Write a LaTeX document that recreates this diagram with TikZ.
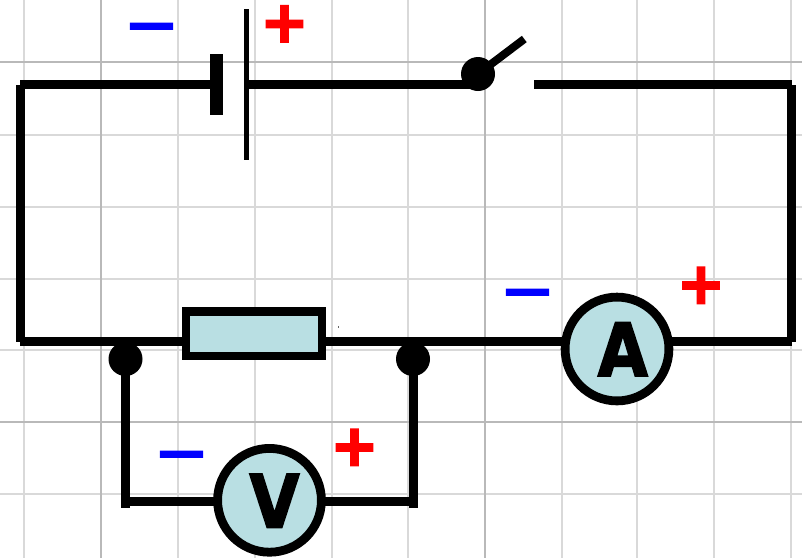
\documentclass[tikz,border=0pt]{standalone}
\usepackage{fontspec}
\setmainfont{DejaVu Sans}
\newfontfamily\signfont[FakeBold=4]{DejaVu Sans Bold}
\newfontfamily\dashfont[FakeBold=3]{DejaVu Sans Bold}
\newfontfamily\letterfont[FakeBold=2.5]{DejaVu Sans Bold}
\definecolor{lightgrid}{HTML}{D9D9D9}
\definecolor{darkgrid}{HTML}{B9B9B9}
\definecolor{meterfill}{HTML}{B9DFE3}
\tikzset{
  gridlight/.style={draw=lightgrid,line width=2pt},
  griddark/.style={draw=darkgrid,line width=2pt},
  wire/.style={draw=black,line width=9pt},
  meter/.style={circle,draw=black,line width=8.8pt,fill=meterfill,minimum size=103.8pt,inner sep=0pt,outer sep=0pt},
  resistor/.style={draw=black,line width=8.2pt,fill=meterfill,minimum width=135.8pt,minimum height=44.8pt,inner sep=0pt,outer sep=0pt},
  junction/.style={circle,fill=black,minimum size=34pt,inner sep=0pt,outer sep=0pt},
  meterletter/.style={anchor=base,font=\fontsize{73.5}{74}\selectfont\letterfont,xscale=0.88,inner sep=0pt},
  plussign/.style={text=red,font=\fontsize{57}{57}\selectfont\signfont,inner sep=0pt,anchor=base},
  minussign/.style={text=blue,font=\fontsize{47}{47}\selectfont\dashfont,inner sep=0pt,anchor=base}
}
\begin{document}
\begin{tikzpicture}[x=1pt,y=-1pt]
\useasboundingbox (0,0) rectangle (802,558);
\fill[white] (0,0) rectangle (802,558);
% grid
\foreach \gx in {24,178,254.5,331.5,408,562,637,714,791} \draw[gridlight] (\gx,0) -- (\gx,558);
\foreach \gy in {134.5,206.5,278.5,350,494} \draw[gridlight] (0,\gy) -- (802,\gy);
\foreach \gx in {101,485} \draw[griddark] (\gx,0) -- (\gx,558);
\foreach \gy in {62,422} \draw[griddark] (0,\gy) -- (802,\gy);
% free wire ends
\coordinate (tl) at (20,84.5);
\coordinate (tlv) at (20,85);
\coordinate (tr) at (791.5,84.5);
\coordinate (trv) at (791.5,85);
\coordinate (bl) at (20,341.5);
\coordinate (blv) at (20,342);
\coordinate (br) at (791.5,341.5);
\coordinate (brv) at (791.5,342);
\coordinate (gapend) at (534,84.5);
\coordinate (armend) at (524.3,39);
\coordinate (vl) at (125.5,508);
\coordinate (vr) at (413,508);
\coordinate (vlh) at (125.5,501.5);
\coordinate (vrh) at (413,501.5);
\coordinate (batneg) at (216.5,84.5);
\coordinate (batpos) at (246.5,84.5);
% wires drawn behind the components
\path (478,74) coordinate (swc) (125.5,359) coordinate (jlc) (413,359) coordinate (jrc)
      (617,349) coordinate (Ac) (269.5,500.3) coordinate (Vc) (254,333.8) coordinate (Rc);
\draw[wire] (tl) -- (batneg);
\draw[wire] (batpos) -- (swc |- batpos);
\draw[wire] (gapend) -- (tr);
\draw[wire] (tlv) -- (blv);
\draw[wire] (trv) -- (brv);
\draw[wire] (bl) -- (br);
\draw[wire] (jlc) -- (vl);
\draw[wire] (jrc) -- (vr);
\draw[wire] (vlh) -- (vrh);
\draw[line width=8pt] (swc) -- (armend);
% components
\node[junction] (sw) at (swc) {};
\node[junction] (jl) at (jlc) {};
\node[junction] (jr) at (jrc) {};
\node[meter] (A) at (Ac) {};
\node[meter] (V) at (Vc) {};
\node[resistor] (R) at (Rc) {};
% battery plates
\fill[black] (210,54) rectangle (222.5,115);
\fill[black] (244.2,9) rectangle (248.8,160);
% speck
\fill[black!60] (337.5,326) rectangle (338.5,327.5);
% letters
\node[meterletter] (Alabel) at (622.8,376) {A};
\node[meterletter] (Vlabel) at (274.5,527.5) {V};
% signs
\node[plussign] (p1) at (284.5,41.8) {+};
\node[plussign] (p2) at (354.5,465.3) {+};
\node[plussign] (p3) at (701,303.3) {+};
\node[minussign] (m1) at (151.5,39.2) {—};
\node[minussign] (m2) at (181.5,467.2) {—};
\node[minussign] (m3) at (527.5,305.2) {—};
\end{tikzpicture}
\end{document}
